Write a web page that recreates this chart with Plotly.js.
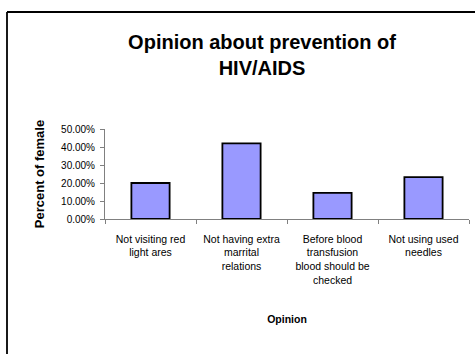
<!DOCTYPE html>
<html>
<head>
<meta charset="utf-8">
<script src="https://cdn.plot.ly/plotly-3.0.1.min.js"></script>
<style>
  html, body { margin: 0; padding: 0; background: #fff; }
  #chart { width: 475px; height: 354px; }
</style>
</head>
<body>
<div id="chart"></div>
<script>
// Opinion categories (axis labels, wrapped as in the printed chart)
const categories = [
  "Not visiting red<br>light ares",
  "Not having extra<br>marrital<br>relations",
  "Before blood<br>transfusion<br>blood should be<br>checked",
  "Not using used<br>needles"
];
// Share of female respondents holding each opinion (fraction)
const percentFemale = [0.20, 0.42, 0.145, 0.233];
// Y axis ticks
const yTickVals = [0, 0.1, 0.2, 0.3, 0.4, 0.5];
const yTickText = ["0.00%", "10.00%", "20.00%", "30.00%", "40.00%", "50.00%"];

const font = "Liberation Sans, Arial, sans-serif";

// plot area geometry in pixels, used for the frame drawn around the chart
const W = 475, H = 354;
const m = { l: 105, r: 6, t: 129, b: 135 };
const pw = W - m.l - m.r, ph = H - m.t - m.b;
const px = x => (x - m.l) / pw;
const py = y => (H - m.b - y) / ph;

const trace = {
  type: "bar",
  x: categories,
  y: percentFemale,
  marker: { color: "#9999FF", line: { color: "#000000", width: 1.8 } },
  hoverinfo: "skip"
};

const layout = {
  width: W, height: H,
  margin: m,
  paper_bgcolor: "#ffffff",
  plot_bgcolor: "#ffffff",
  showlegend: false,
  bargap: 0.58,
  font: { family: font, color: "#000" },
  title: {
    text: "<b>Opinion about prevention of<br>HIV/AIDS</b>",
    font: { family: font, size: 20, color: "#000" },
    x: 262 / W, xref: "container", xanchor: "center",
    y: 1 - 49 / H, yref: "container", yanchor: "middle"
  },
  xaxis: {
    type: "category",
    tickson: "boundaries",
    ticks: "outside", ticklen: 4, tickcolor: "#808080",
    ticklabelstandoff: 10,
    showline: true, linecolor: "#808080", linewidth: 1,
    showgrid: false, zeroline: false,
    tickfont: { family: font, size: 10.5, color: "#000" },
    title: {
      text: "<b>Opinion</b>",
      font: { family: font, size: 10.5, color: "#000" },
      standoff: 31
    },
    fixedrange: true
  },
  yaxis: {
    range: [0, 0.5],
    tickvals: yTickVals, ticktext: yTickText,
    ticks: "outside", ticklen: 4, tickcolor: "#808080",
    ticklabelstandoff: 3,
    showline: true, linecolor: "#808080", linewidth: 1,
    showgrid: false, zeroline: false,
    tickfont: { family: font, size: 10, color: "#000" },
    title: {
      text: "<b>Percent of female</b>",
      font: { family: font, size: 13, color: "#000" },
      standoff: 13
    },
    fixedrange: true
  },
  shapes: [
    { type: "line", xref: "paper", yref: "paper",
      x0: px(7), x1: px(476), y0: py(12), y1: py(12),
      line: { color: "#000", width: 1.8 } },
    { type: "line", xref: "paper", yref: "paper",
      x0: px(7), x1: px(7), y0: py(12), y1: py(356),
      line: { color: "#000", width: 1.8 } }
  ]
};

Plotly.newPlot("chart", [trace], layout, { displayModeBar: false, staticPlot: true });
</script>
</body>
</html>
